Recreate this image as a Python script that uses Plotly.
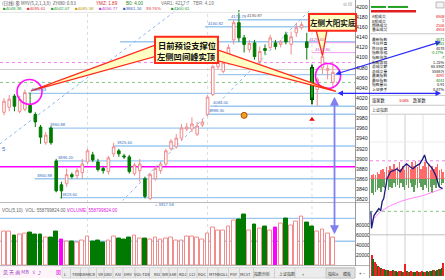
import plotly.graph_objects as go

W, H = 445, 280
NUM = "Liberation Sans, Arial, sans-serif"
CJK = "Noto Sans CJK SC, sans-serif"

# ---------------- daily K-line data ----------------
days = list(range(64))
opens = [3992, 4002, 4024, 3994, 3998, 4006, 3988, 3963, 3932, 3961,
         3896, 3849, 3851, 3869, 3867, 3873, 3894, 3908, 3894, 3881,
         3875, 3910, 3916, 3906, 3904, 3871, 3877, 3861, 3822, 3861,
         3877, 3890, 3920, 3924, 3941, 3959, 3959, 3949, 3967, 3988,
         4027, 4082, 4073, 4096, 4135, 4169, 4139, 4116, 4129, 4092,
         4118, 4120, 4129, 4126, 4145, 4126, 4149, 4159, 4131, 4080,
         4037, 4080, 4075, 4051]
highs = [4020, 4026, 4028, 4024, 4037, 4031, 3992, 3967, 3953, 3965,
         3900, 3855, 3881, 3873, 3882, 3900, 3920, 3914, 3900, 3884,
         3906, 3932, 3920, 3910, 3908, 3892, 3900, 3865, 3873, 3884,
         3894, 3920, 3939, 3949, 3969, 3971, 3982, 3973, 3979, 4026,
         4086, 4102, 4096, 4126, 4175, 4194, 4145, 4135, 4135, 4122,
         4126, 4145, 4135, 4135, 4151, 4151, 4169, 4171, 4149, 4086,
         4061, 4106, 4086, 4092]
lows = [3986, 3994, 3994, 3990, 3994, 3990, 3963, 3930, 3928, 3928,
        3834, 3822, 3845, 3861, 3861, 3861, 3890, 3894, 3875, 3871,
        3869, 3904, 3904, 3900, 3871, 3867, 3855, 3822, 3818, 3857,
        3871, 3886, 3916, 3920, 3937, 3955, 3953, 3945, 3963, 3984,
        4024, 4077, 4069, 4086, 4126, 4131, 4110, 4110, 4096, 4086,
        4106, 4116, 4116, 4120, 4126, 4106, 4141, 4155, 4096, 4008,
        4004, 4067, 4057, 4041]
closes = [4014, 4018, 4004, 4018, 4031, 3992, 3973, 3943, 3947, 3932,
          3837, 3837, 3869, 3865, 3877, 3890, 3916, 3898, 3879, 3877,
          3902, 3924, 3910, 3904, 3875, 3888, 3890, 3826, 3869, 3881,
          3890, 3916, 3935, 3941, 3961, 3963, 3969, 3965, 3973, 4022,
          4082, 4096, 4090, 4120, 4169, 4139, 4126, 4128, 4102, 4112,
          4114, 4139, 4122, 4131, 4131, 4141, 4159, 4165, 4120, 4018,
          4057, 4102, 4078, 4071]
volumes = [67830, 68210, 60150, 62040, 64380, 65920, 61870, 62250, 55960, 56310,
           68120, 51880, 48240, 47930, 46150, 50220, 57840, 48110, 49960, 46270,
           50130, 58060, 53890, 52170, 55940, 60320, 53870, 54110, 51960, 56180,
           52040, 53920, 56230, 49870, 50140, 57960, 58120, 55830, 52090, 63940,
           76120, 69880, 70230, 78150, 89870, 92110, 101950, 70080, 81960, 74120,
           77890, 70150, 76030, 83940, 94120, 79860, 88210, 97930, 86040, 78120,
           67950, 72080, 63870, 55880]
vol_marked_days = [11, 52]
highlight_day = 59
signal_days = [59]
signal_prices = [3978]
coin_days = [46]
coin_prices = [3986]

price_ticks = list(range(3820, 4201, 20))
vol_ticks = [20000, 40000, 60000, 80000]

support_levels = [4174.79, 4160.82, 4131.40, 4066.50, 4029.43, 4004.00,
                  3988.30, 3960.88, 3925.60, 3896.20, 3860.88, 3823.60]
support_start = [42.9, 38.5, 22.2, 41.0, 4.6, 39.5, 38.7, 8.4, 21.1, 9.8, 5.9, 10.7]
support_labeled = [True, True, False, False, True, True, True, True, True, True, True, True]
magenta_level = 3884.42
magenta_dot_level = 4090.20
green_dot_level = 4051.00
gray_level = 4076.50
pink_levels = [4129.40, 4109.80]
pink_start = [58.0, 59.0]
trend_lines = [((-0.8, 3929.5), (35.6, 4213.7)), ((21.8, 3808.0), (58.6, 4194.1))]
month_marks = [16, 39, 59]
vol_levels = [94000, 48000]

# ---------------- intraday (上证指数 分时) ----------------
prev_close = 4078.0
intraday_min = [0, 2, 10, 21, 26, 32, 37, 42, 48, 53, 64, 74, 85, 96, 106, 117,
                128, 138, 149, 160, 170, 176, 182, 192, 202, 213, 224, 235]
intraday_px = [4057.9, 4047.5, 4055.4, 4057.9, 4059.7, 4058.5, 4064.0, 4065.8,
               4071.9, 4078.0, 4082.3, 4082.9, 4084.1, 4082.3, 4085.3, 4087.1,
               4085.3, 4084.1, 4085.9, 4087.1, 4090.2, 4092.6, 4088.4, 4085.9,
               4084.1, 4079.8, 4073.1, 4071.9]
avg_min = [0, 10, 32, 64, 96, 128, 170, 208, 235]
avg_px = [4050.6, 4053.6, 4057.9, 4061.5, 4064.0, 4065.8, 4067.6, 4070.1, 4071.9]
breadth_min = [3 + 6 * i for i in range(40)]
breadth_up = [2, 3, 2, 4, 3, 5, 6, 4, 7, 5, 8, 6, 9, 5, 7, 10, 6, 8, 5, 9,
              7, 6, 10, 8, 11, 7, 9, 6, 8, 10, 7, 9, 5, 8, 6, 7, 9, 5, 6, 4]
breadth_dn = [9, 10, 8, 7, 6, 8, 5, 6, 4, 7, 5, 6, 3, 5, 4, 6, 3, 5, 7, 4,
              6, 3, 5, 8, 4, 6, 3, 5, 7, 4, 6, 8, 5, 9, 4, 6, 3, 5, 4, 3]
ivol_min = [2.5 + 5 * i for i in range(48)]
ivol = [22, 18, 15, 12, 10, 9, 8, 7, 7, 6, 6, 6, 5, 5, 6, 5, 5, 4, 5, 5, 4, 4, 12, 5,
        4, 4, 5, 4, 4, 4, 5, 4, 4, 5, 4, 4, 5, 4, 5, 5, 6, 6, 5, 6, 7, 7, 8, 13]
ivol_up = [1, 0, 1, 1, 0, 1, 0, 1, 1, 0, 1, 0, 1, 1, 0, 1, 0, 0, 1, 1, 0, 1, 1, 0,
           1, 0, 1, 1, 0, 0, 1, 0, 1, 1, 0, 1, 0, 0, 1, 0, 0, 1, 0, 0, 1, 0, 0, 1]

# ---------------- figure ----------------
up = [c >= o for o, c in zip(opens, closes)]
UPC, DNC = "#f08c8c", "#007a00"

fig = go.Figure()
fig.add_trace(go.Candlestick(
    x=days, open=opens, high=highs, low=lows, close=closes,
    increasing=dict(line=dict(color=UPC, width=1), fillcolor="#ffffff"),
    decreasing=dict(line=dict(color=DNC, width=1), fillcolor=DNC),
    whiskerwidth=0, hoverinfo="skip", xaxis="x", yaxis="y", showlegend=False))
h = highlight_day
fig.add_trace(go.Candlestick(
    x=[days[h]], open=[opens[h]], high=[highs[h]], low=[lows[h]], close=[closes[h]],
    increasing=dict(line=dict(color="#005500", width=1.5), fillcolor="#33dd33"),
    decreasing=dict(line=dict(color="#005500", width=1.5), fillcolor="#33dd33"),
    whiskerwidth=0, hoverinfo="skip", xaxis="x", yaxis="y", showlegend=False))
fig.add_trace(go.Scatter(x=signal_days, y=signal_prices, mode="markers",
                         marker=dict(symbol="triangle-up", size=5, color="#ee0000"),
                         hoverinfo="skip", showlegend=False))
fig.add_trace(go.Scatter(x=coin_days, y=coin_prices, mode="markers",
                         marker=dict(symbol="circle", size=6, color="#f0a020",
                                     line=dict(color="#b05000", width=1)),
                         hoverinfo="skip", showlegend=False))

vol_fill = ["#ff00ff" if i in vol_marked_days else ("#ffffff" if up[i] else DNC) for i in days]
vol_line = ["#ff00ff" if i in vol_marked_days else (UPC if up[i] else DNC) for i in days]
fig.add_trace(go.Bar(x=days, y=volumes, width=0.72,
                     marker=dict(color=vol_fill, line=dict(color=vol_line, width=1)),
                     xaxis="x", yaxis="y2", hoverinfo="skip", showlegend=False))

# intraday
fig.add_trace(go.Bar(x=breadth_min, y=breadth_up, base=prev_close, width=1.6,
                     marker=dict(color="#ff6a6a", line=dict(width=0)),
                     xaxis="x3", yaxis="y3", hoverinfo="skip", showlegend=False))
fig.add_trace(go.Bar(x=breadth_min, y=[-v for v in breadth_dn], base=prev_close, width=1.6,
                     marker=dict(color="#5aa05a", line=dict(width=0)),
                     xaxis="x3", yaxis="y3", hoverinfo="skip", showlegend=False))
fig.add_trace(go.Scatter(x=avg_min, y=avg_px, mode="lines", line=dict(color="#ff88ff", width=1),
                         xaxis="x3", yaxis="y3", hoverinfo="skip", showlegend=False))
fig.add_trace(go.Scatter(x=intraday_min, y=intraday_px, mode="lines",
                         line=dict(color="#1a1a80", width=1.3),
                         xaxis="x3", yaxis="y3", hoverinfo="skip", showlegend=False))
fig.add_trace(go.Bar(x=ivol_min, y=ivol, width=3.6,
                     marker=dict(color=["#ee2020" if u else "#1a6e1a" for u in ivol_up], line=dict(width=0)),
                     xaxis="x3", yaxis="y4", hoverinfo="skip", showlegend=False))

shapes, ann = [], []


def px(x, y):
    return x / W, 1 - y / H


def line_px(x0, y0, x1, y1, color, w=1, dash="solid", layer="above"):
    a, b = px(x0, y0)
    c, d = px(x1, y1)
    shapes.append(dict(type="line", xref="paper", yref="paper", x0=a, y0=b, x1=c, y1=d,
                       line=dict(color=color, width=w, dash=dash), layer=layer))


def rect_px(x0, y0, x1, y1, fill, color=None, w=0, layer="above"):
    a, b = px(x0, y0)
    c, d = px(x1, y1)
    shapes.append(dict(type="rect", xref="paper", yref="paper", x0=a, y0=b, x1=c, y1=d,
                       fillcolor=fill, line=dict(color=color or fill, width=w), layer=layer))


def poly_px(pts, fill, color, w=1):
    d = "M " + " L ".join(f"{x / W:.5f},{1 - y / H:.5f}" for x, y in pts) + " Z"
    shapes.append(dict(type="path", xref="paper", yref="paper", path=d, fillcolor=fill,
                       line=dict(color=color, width=w), layer="above"))


def text_px(x, y, s, size=5, color="#000", xa="left", family=NUM):
    a, b = px(x, y)
    ann.append(dict(x=a, y=b, xref="paper", yref="paper", text=s, showarrow=False,
                    xanchor=xa, yanchor="middle", borderpad=0,
                    font=dict(size=size, color=color, family=family)))


XMAX = 67.24
# horizontal levels on main chart
for lv, st, lab in zip(support_levels, support_start, support_labeled):
    shapes.append(dict(type="line", xref="x", yref="y", x0=st, x1=XMAX, y0=lv, y1=lv,
                       line=dict(color="#9cc8f0", width=1.4), layer="below"))
    if lab:
        ann.append(dict(x=st + 0.3, y=lv, xref="x", yref="y", text=f"{lv:.2f}", showarrow=False,
                        xanchor="left", yanchor="bottom", borderpad=0,
                        font=dict(size=4.2, color="#3a6fc0", family=NUM)))
for lv, color, w, dash in [(gray_level, "#d0d0d0", 1, "solid"),
                           (magenta_dot_level, "#f080f0", 1, "dot"),
                           (green_dot_level, "#80c880", 1, "dot"),
                           (magenta_level, "#ff00ff", 1.6, "solid")]:
    shapes.append(dict(type="line", xref="x", yref="y", x0=-0.77, x1=XMAX, y0=lv, y1=lv,
                       line=dict(color=color, width=w, dash=dash), layer="below"))
for lv, st in zip(pink_levels, pink_start):
    shapes.append(dict(type="line", xref="x", yref="y", x0=st, x1=XMAX, y0=lv, y1=lv,
                       line=dict(color="#f0a0f0", width=1), layer="below"))
    ann.append(dict(x=st + 0.3, y=lv, xref="x", yref="y", text=f"{lv:.2f}", showarrow=False,
                    xanchor="left", yanchor="bottom", borderpad=0,
                    font=dict(size=4.2, color="#c060c0", family=NUM)))
for (xa_, ya_), (xb_, yb_) in trend_lines:
    shapes.append(dict(type="line", xref="x", yref="y", x0=xa_, y0=ya_, x1=xb_, y1=yb_,
                       line=dict(color="#8ab8ea", width=1, dash="dot"), layer="below"))
for m in month_marks:
    line_px(4 + 5.22 * m, 14, 4 + 5.22 * m, 267, "#dddddd", 1, "dot", "below")
for lv in vol_levels:
    shapes.append(dict(type="line", xref="x", yref="y2", x0=-0.77, x1=XMAX, y0=lv, y1=lv,
                       line=dict(color="#9cc8f0", width=1.3), layer="below"))
ann.append(dict(x=days[45] + 1.2, y=highs[45] - 10, xref="x", yref="y", text="4190.87",
                showarrow=False, xanchor="left", yanchor="middle",
                font=dict(size=4.2, color="#555", family=NUM)))
ann.append(dict(x=days[28] + 0.5, y=lows[28], xref="x", yref="y", text="+ 3817.58",
                showarrow=False, xanchor="left", yanchor="top",
                font=dict(size=4.2, color="#3a6fc0", family=NUM)))

# panel frames
line_px(0, 12.5, 355, 12.5, "#e6e6e6", 1)
line_px(0, 204, 369, 204, "#b8b8b8", 1)
line_px(0, 267.5, 369, 267.5, "#b0b0b0", 1)
line_px(355.5, 0, 355.5, 268, "#9a9a9a", 1)
line_px(369.5, 0, 369.5, 280, "#9a9a9a", 1)

# header texts
text_px(1, 3.5, "(日线) 参 MYV(5,2,1,3,8)  ZHB0: 0.83", 4.6, "#555", family=CJK)
text_px(95, 3.5, "YMZ: 1.89", 4.6, "#d03030")
text_px(125, 3.5, "B0: 4.00", 4.6, "#2a8a2a")
text_px(160, 3.5, "VAR1: 4217.7   TBR: 4.19", 4.6, "#777")
row2 = [("■4048.38", "#2a9a2a", 2), ("■4095.61", "#e03030", 26), ("■4042.07", "#2a9a2a", 50),
        ("■4085.58", "#c0a000", 74), ("■4056.77", "#c040c0", 98), ("■3861.16", "#3060c0", 122),
        ("39.76%", "#e03030", 145), ("■4100.61", "#2a9a2a", 170)]
for s, c, x in row2:
    text_px(x, 8.7, s, 4.4, c)
text_px(342, 4, "⊙ ⊡", 5, "#888")

# volume header
text_px(1, 212, "VOL(5,10)  VOL: 558799824.00 ↑", 4.5, "#666")
text_px(66, 212, "VOLUME: 558799824.00", 4.5, "#e020e0")
text_px(1, 150, "5", 6, "#3a6fc0")

# circles
for cx, cy in [(29.5, 92.5), (328, 76.5)]:
    a, b = px(cx - 12.5, cy - 12.5)
    c, d = px(cx + 12.5, cy + 12.5)
    shapes.append(dict(type="circle", xref="paper", yref="paper", x0=a, y0=b, x1=c, y1=d,
                       line=dict(color="#ff10ff", width=1.6), layer="above"))

# callout 1
CF, CB = "#ffffc4", "#ff2a1a"
poly_px([(155, 45.5), (155, 57), (31, 91.5)], CF, CB, 1.3)
poly_px([(217, 50), (217, 61), (336, 92)], CF, CB, 1.3)
rect_px(155, 37, 218, 63.5, CF, CB, 2)
text_px(186.5, 45, "<b>日前预设支撑位</b>", 8.3, "#111", "center", CJK)
text_px(186.5, 56, "<b>左侧凹间峰实顶</b>", 8.3, "#111", "center", CJK)
# callout 2
poly_px([(316, 30), (327, 30), (322.5, 56)], CF, CB, 1.3)
rect_px(309, 14, 356, 31, CF, CB, 2)
text_px(332.5, 22.5, "<b>左侧大阳实底</b>", 7.6, "#111", "center", CJK)

# arrows
for (hx, hy, tx, ty, col, wd) in [(441, 42, 334, 75, "#2a2aff", 1.1),
                                   (441, 94, 336, 94, "#2a2aff", 1.1),
                                   (334.5, 236, 334.5, 97, "#8080f0", 1.8)]:
    a, b = px(hx, hy)
    ann.append(dict(x=a, y=b, xref="paper", yref="paper", ax=tx - hx, ay=ty - hy,
                    text="", showarrow=True, arrowhead=2, startarrowhead=2, arrowside="end+start",
                    arrowcolor=col, arrowwidth=wd, arrowsize=1, startarrowsize=1))

# right info panel
rect_px(371, 6, 386, 8, "#20a020")
rect_px(388, 6, 408, 8, "#20a020")
rect_px(371, 10, 416, 12.5, "#e02020")
rect_px(436, 2, 444, 8, "#f4f4f4", "#aaaaaa", 0.8)
PF = 3.8
top_rows = [("A股成交", "6908", "#e00000"), ("B股成交", "1", "#e00000"),
            ("国债成交", "2106", "#e00000"), ("基金成交", "4953", "#e00000")]
for i, (lab, val, col) in enumerate(top_rows):
    y = 17 + 4.4 * i
    text_px(371, y, lab, PF, "#111", family=CJK)
    text_px(445, y, val, PF, col, "right")
line_px(369, 34, 445, 34, "#c8c8c8", 1)
rows = [("最新指数", "4071", "#008000"), ("今日开盘", "4051", "#008000"),
        ("昨日收盘", "4078", "#111"), ("指数涨幅", "-0.17%", "#008000"),
        ("指数涨跌", "-7", "#008000"), ("指数振幅", "1.25%", "#111"),
        ("总成交额", "65.89亿", "#111"), ("总成交量", "5588万", "#111"),
        ("最高指数", "4092", "#e00000"), ("最低指数", "4041", "#008000"),
        ("指数量比", "0.91", "#111"), ("上证换手", "0.87%", "#111")]
for i, (lab, val, col) in enumerate(rows):
    y = 39.5 + 4.6 * i
    text_px(371, y, lab, PF, "#111", family=CJK)
    text_px(445, y, val, PF, col, "right", family=CJK)
line_px(369, 96, 445, 96, "#c8c8c8", 1)
text_px(371, 101, "涨家数", 4.2, "#111", family=CJK)
text_px(398, 101, "1065", 4.4, "#e00000")
text_px(412, 101, "跌家数", 4.2, "#111", family=CJK)
line_px(369, 106, 445, 106, "#c8c8c8", 1)
text_px(371, 110.5, "上证指数", 4.0, "#333", family=CJK)
line_px(369, 115, 445, 115, "#c8c8c8", 1)
for gx in [387, 423]:
    line_px(gx, 115, gx, 278, "#e4e4e4", 1, "solid", "below")
line_px(405, 115, 405, 278, "#cfcfcf", 1, "solid", "below")
line_px(369, 143, 445, 143, "#ececec", 1, "solid", "below")
line_px(369, 236.5, 445, 236.5, "#c0c0c0", 1)
shapes.append(dict(type="line", xref="paper", yref="y3", x0=370 / W, x1=1, y0=prev_close, y1=prev_close,
                   line=dict(color="#a0a0a0", width=1), layer="below"))
shapes.append(dict(type="line", xref="paper", yref="y3", x0=370 / W, x1=1, y0=4089, y1=4089,
                   line=dict(color="#f080f0", width=1, dash="dot"), layer="below"))
shapes.append(dict(type="line", xref="paper", yref="y3", x0=370 / W, x1=1, y0=4058, y1=4058,
                   line=dict(color="#80c880", width=1, dash="dot"), layer="below"))

# bottom tab bar
rect_px(0, 268, 62, 280, "#fff4fa", layer="below")
rect_px(62, 269.5, 355, 280, "#ececec", "#c8c8c8", 0.6, layer="below")
text_px(2, 274, "见 天 画 MB  ゞ ♪", 5, "#a040c0", family=CJK)
text_px(55, 274, "図", 5, "#e020e0", family=CJK)
tabs = [("L", 65), ("TRIX", 76), ("BRAR", 85), ("CR", 93), ("VR", 100), ("OBV", 108),
        ("ASI", 118), ("EMV", 128), ("VOL-TDX", 142), ("RSI", 157), ("WR", 165), ("SAR", 173),
        ("KDJ", 182), ("CCI", 192), ("ROC", 202), ("MTM", 213), ("BOLL", 223), ("PSY", 234),
        ("MCST", 245), ("指数分析", 262), ("上证指数", 287), ("+", 303)]
for i, (s, x) in enumerate(tabs):
    text_px(x, 275.5, s, 4.0, "#333", "center", CJK)
    if i:
        nx = (tabs[i - 1][1] + x) / 2
        line_px(nx, 270, nx, 280, "#c0c0c0", 0.6)
rect_px(326, 270, 355, 280, "#e0e0e0", "#b0b0b0", 0.6)
text_px(333, 275.5, "指标A", 4.0, "#333", "center", CJK)
text_px(347, 275.5, "模板", 4.0, "#333", "center", CJK)
text_px(362, 275.5, "+ −", 4.5, "#555", "center")

fig.update_layout(
    width=W, height=H, margin=dict(l=0, r=0, t=0, b=0),
    paper_bgcolor="#ffffff", plot_bgcolor="#ffffff", showlegend=False,
    barmode="overlay", bargap=0,
    xaxis=dict(domain=[0, 355 / W], range=[-0.766, XMAX], visible=False,
               rangeslider=dict(visible=False), anchor="y", fixedrange=True),
    yaxis=dict(domain=[1 - 202 / H, 1 - 2 / H], range=[3817.8, 4209.8], side="right", anchor="x",
               tickvals=price_ticks, tickfont=dict(size=5.2, color="#222", family=NUM),
               showgrid=False, zeroline=False, ticks="", showline=False),
    yaxis2=dict(domain=[1 - 267 / H, 1 - 205 / H], range=[0, 124000], side="right", anchor="x",
                tickvals=vol_ticks, tickformat="d", tickfont=dict(size=5, color="#222", family=NUM),
                showgrid=False, zeroline=False, ticks="", showline=False),
    xaxis3=dict(domain=[370 / W, 1], range=[-3, 243], visible=False, anchor="y3"),
    yaxis3=dict(domain=[1 - 236 / H, 1 - 115 / H], range=[4043.9, 4117.6], visible=False, anchor="x3"),
    yaxis4=dict(domain=[1 - 278 / H, 1 - 240 / H], range=[0, 40], visible=False, anchor="x3"),
    shapes=shapes, annotations=ann,
)

fig.write_html("out.html", config={"displayModeBar": False})
